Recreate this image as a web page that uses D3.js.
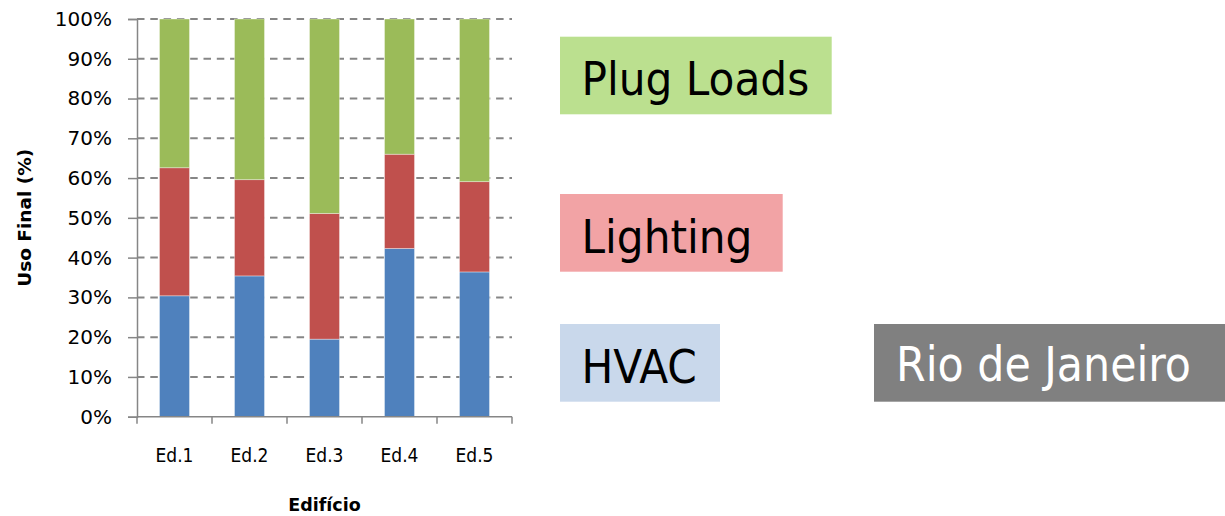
<!DOCTYPE html>
<html>
<head>
<meta charset="utf-8">
<script src="https://cdn.jsdelivr.net/npm/d3@7"></script>
<style>
  html, body { margin: 0; padding: 0; background: #ffffff; }
  svg { display: block; }
  .cond { font-family: "DejaVu Sans Condensed", "DejaVu Sans", sans-serif; font-stretch: condensed; }
  .wide { font-family: "DejaVu Sans", sans-serif; }
</style>
</head>
<body>
<svg id="chart" width="1225" height="516"></svg>
<script>
// End-use breakdown per building (percent of total)
const buildings = ["Ed.1", "Ed.2", "Ed.3", "Ed.4", "Ed.5"];
const hvac      = [30.4, 35.4, 19.5, 42.3, 36.4];
const lighting  = [32.2, 24.2, 31.6, 23.7, 22.7];
const plugLoads = [37.4, 40.4, 48.9, 34.0, 40.9];
const yTicks    = [0, 10, 20, 30, 40, 50, 60, 70, 80, 90, 100];

const seriesNames  = ["HVAC", "Lighting", "Plug Loads"];
const seriesColors = ["#4F81BD", "#C0504D", "#9BBB59"];
const legendFills  = ["#C9D8EB", "#F2A3A5", "#BBE08F"];

const svg = d3.select("#chart");

const plot = { left: 137, right: 512, top: 19, bottom: 416.7 };

const x = d3.scaleBand()
  .domain(buildings)
  .range([plot.left, plot.right])
  .paddingInner(0.6)
  .paddingOuter(0.3);

const y = d3.scaleLinear()
  .domain([0, 100])
  .range([plot.bottom, plot.top]);

// stacked layout
const rows = buildings.map((b, i) => ({
  building: b,
  "HVAC": hvac[i],
  "Lighting": lighting[i],
  "Plug Loads": plugLoads[i]
}));
const stack = d3.stack().keys(seriesNames)(rows);

// dashed horizontal gridlines
svg.append("g")
  .selectAll("line")
  .data(yTicks.filter(t => t > 0))
  .join("line")
  .attr("x1", plot.left)
  .attr("x2", plot.right)
  .attr("y1", d => y(d))
  .attr("y2", d => y(d))
  .attr("stroke", "#868686")
  .attr("stroke-width", 2)
  .attr("stroke-dasharray", "7.5,5.8");

// bars
svg.append("g")
  .selectAll("g")
  .data(stack)
  .join("g")
  .attr("fill", (d, i) => seriesColors[i])
  .selectAll("rect")
  .data(d => d)
  .join("rect")
  .attr("x", d => x(d.data.building))
  .attr("width", x.bandwidth())
  .attr("y", d => y(d[1]))
  .attr("height", d => y(d[0]) - y(d[1]))
  .attr("stroke", "rgba(255,255,255,0.45)")
  .attr("stroke-width", 0.8);

// y axis
const yAxis = d3.axisLeft(y)
  .tickValues(yTicks)
  .tickFormat(d => d + "%")
  .tickSize(9)
  .tickPadding(16);

const gy = svg.append("g")
  .attr("transform", `translate(${plot.left},0)`)
  .call(yAxis);
gy.select(".domain").attr("stroke", "#868686").attr("stroke-width", 1.5);
gy.selectAll(".tick line").attr("stroke", "#868686").attr("stroke-width", 1.5);
gy.selectAll(".tick text")
  .attr("class", "wide")
  .attr("font-size", 20)
  .attr("fill", "#000");

// x axis: tick marks at category boundaries, labels at category centres
const bounds = buildings.map((b, i) => plot.left + i * x.step());
bounds.push(plot.right);

svg.append("line")
  .attr("x1", plot.left).attr("x2", plot.right)
  .attr("y1", plot.bottom).attr("y2", plot.bottom)
  .attr("stroke", "#868686").attr("stroke-width", 1.5);

svg.append("g")
  .selectAll("line")
  .data(bounds)
  .join("line")
  .attr("x1", d => d).attr("x2", d => d)
  .attr("y1", plot.bottom).attr("y2", plot.bottom + 7)
  .attr("stroke", "#868686").attr("stroke-width", 1.5);

svg.append("g")
  .selectAll("text")
  .data(buildings)
  .join("text")
  .attr("class", "cond")
  .attr("x", d => x(d) + x.bandwidth() / 2)
  .attr("y", 461.5)
  .attr("text-anchor", "middle")
  .attr("font-size", 19)
  .attr("fill", "#000")
  .text(d => d);

// axis titles
svg.append("text")
  .attr("class", "wide")
  .attr("x", (plot.left + plot.right) / 2)
  .attr("y", 510.5)
  .attr("text-anchor", "middle")
  .attr("font-size", 17.5)
  .attr("font-weight", "bold")
  .attr("fill", "#000")
  .text("Edifício");

svg.append("text")
  .attr("class", "wide")
  .attr("transform", `translate(31,${(plot.top + plot.bottom) / 2}) rotate(-90)`)
  .attr("text-anchor", "middle")
  .attr("font-size", 18.5)
  .attr("font-weight", "bold")
  .attr("fill", "#000")
  .text("Uso Final (%)");

// legend boxes
const legendBoxes = [
  { name: "Plug Loads", fill: legendFills[2], x: 560, y: 36.7, w: 271.7, h: 77.6 },
  { name: "Lighting",   fill: legendFills[1], x: 560, y: 194,  w: 222.7, h: 77.7 },
  { name: "HVAC",       fill: legendFills[0], x: 560, y: 324,  w: 160,   h: 77.7 }
];
const lg = svg.append("g")
  .selectAll("g")
  .data(legendBoxes)
  .join("g")
  .attr("transform", d => `translate(${d.x},${d.y})`);
lg.append("rect")
  .attr("width", d => d.w)
  .attr("height", d => d.h)
  .attr("fill", d => d.fill);
lg.append("text")
  .attr("class", "cond")
  .attr("x", 21.5)
  .attr("y", 58.8)
  .attr("font-size", 47)
  .attr("fill", "#000")
  .text(d => d.name);

// city label
const city = svg.append("g").attr("transform", "translate(874,324)");
city.append("rect")
  .attr("width", 351)
  .attr("height", 77.7)
  .attr("fill", "#808080");
city.append("text")
  .attr("class", "cond")
  .attr("x", 22)
  .attr("y", 57)
  .attr("font-size", 47.5)
  .attr("fill", "#ffffff")
  .text("Rio de Janeiro");
</script>
</body>
</html>
